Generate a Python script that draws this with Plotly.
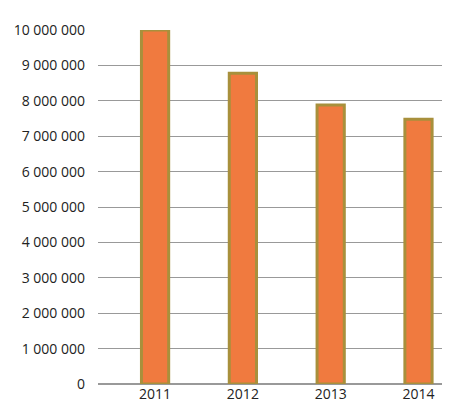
import plotly.graph_objects as go

years = ["2011", "2012", "2013", "2014"]
values = [10000000, 8780000, 7880000, 7480000]
tick_vals = list(range(0, 10000001, 1000000))
tick_text = ["{:,}".format(v).replace(",", " ") for v in tick_vals]

fig = go.Figure()
fig.add_bar(x=years, y=values, width=0.31,
            marker=dict(color="#F07A3F", line=dict(color="#A8903C", width=3)))

fig.update_layout(
    width=450, height=420,
    margin=dict(l=90, r=0, t=22, b=44, pad=0),
    plot_bgcolor="white", paper_bgcolor="white",
    font=dict(family="Open Sans, Liberation Sans", size=14, color="#222"),
    showlegend=False,
    bargap=0.69,
)
fig.update_yaxes(range=[0, 10000000], tickvals=tick_vals, ticktext=tick_text,
                 gridcolor="#999", gridwidth=1, zeroline=True, zerolinecolor="#999",
                 ticklabelstandoff=12, automargin=False)
fig.update_xaxes(showline=False, ticks="", automargin=False, range=[-0.65, 3.45])
fig.write_html("out.html")
